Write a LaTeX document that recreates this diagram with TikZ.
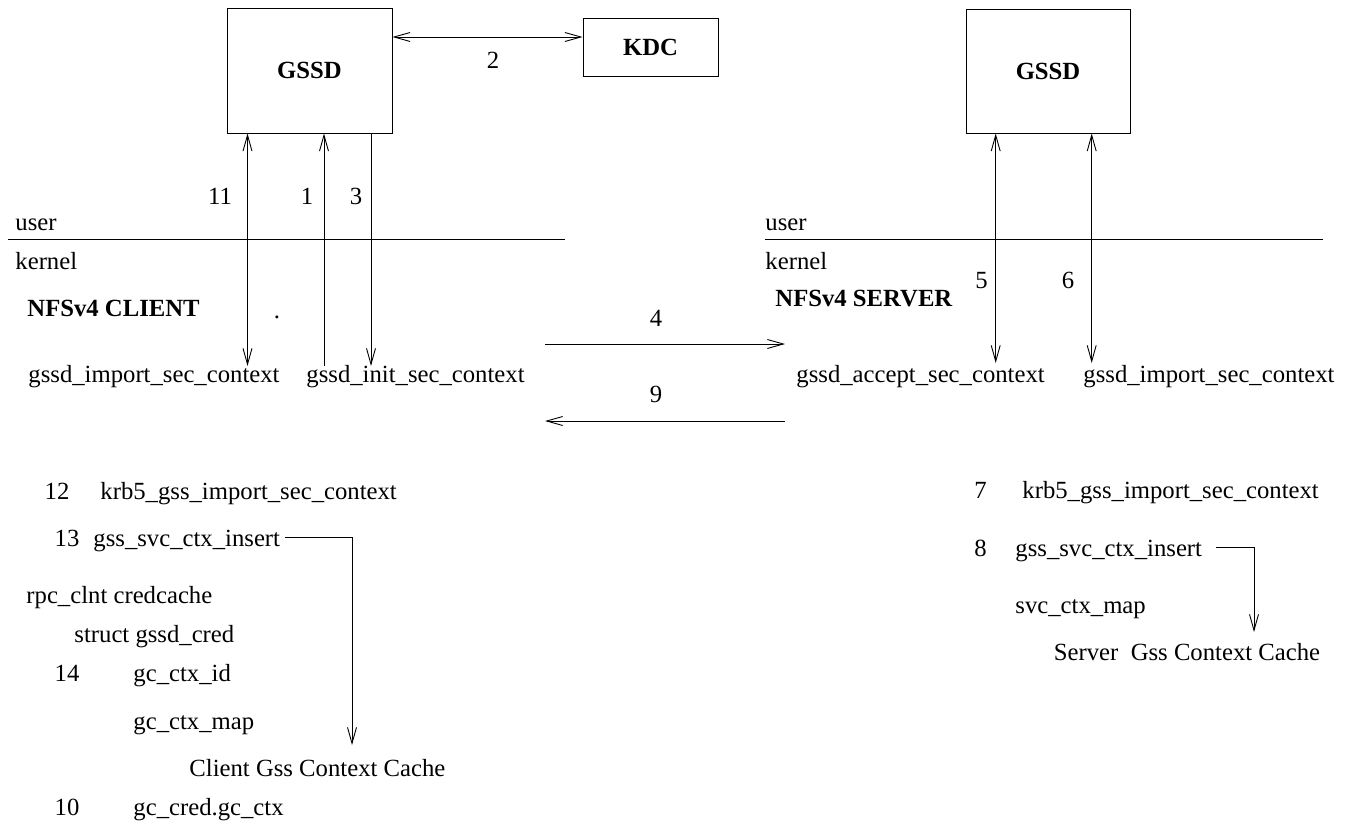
\documentclass[tikz,border=0pt]{standalone}
\usepackage{fontspec}
\setmainfont{Liberation Serif}
\usetikzlibrary{arrows.meta}
\begin{document}
\begin{tikzpicture}[x=1pt,y=-1pt,line width=0.9pt,
  >={Straight Barb[length=16pt,width=9pt]},
  every node/.style={font=\fontsize{24.7}{29}\selectfont, inner sep=0pt},
  lbl/.style={anchor=base west},
  num/.style={anchor=base},
  box/.style={draw, line width=0.9pt, font=\fontsize{24.7}{29}\selectfont\bfseries},
  conn/.style={line width=0.9pt}]
\useasboundingbox (0,0) rectangle (1357,825);

% boxes
\node[box, minimum width=165pt, minimum height=125pt] (gssdc) at (309.5,70.5) {GSSD};
\node[box, minimum width=135pt, minimum height=58pt] (kdc) at (650.5,47) {KDC};
\node[box, minimum width=164pt, minimum height=124pt] (gssds) at (1048,71) {GSSD};

% arrow 2
\coordinate (k2) at (0,37);
\draw[conn,<->] (gssdc.east |- k2) -- (kdc.west |- k2);
\node[num] (n2) at (493,68) {2};

% user / kernel (client)
\node[lbl] (userc) at (15,230) {user};
\node[lbl] (kernc) at (15,269) {kernel};
\coordinate (ulc1) at (8,239);
\coordinate (ulc2) at (565,239);
\draw[conn] (ulc1) -- (ulc2);
\node[lbl, font=\fontsize{24.7}{29}\selectfont\bfseries] (nfsc) at (27,316) {NFSv4 CLIENT};
\node[anchor=base] (dot) at (277,318) {.};

% user / kernel (server)
\node[lbl] (users) at (765,230) {user};
\node[lbl] (kerns) at (765,269) {kernel};
\coordinate (uls1) at (765,239);
\coordinate (uls2) at (1323,239);
\draw[conn] (uls1) -- (uls2);
\node[lbl, font=\fontsize{24.7}{29}\selectfont\bfseries] (nfss) at (775,306) {NFSv4 SERVER};

% client function names
\node[lbl] (impc) at (28,382) {gssd\_import\_sec\_context};
\node[lbl] (initc) at (306,382) {gssd\_init\_sec\_context};
% server function names
\node[lbl] (accs) at (796,382) {gssd\_accept\_sec\_context};
\node[lbl] (imps) at (1083,382) {gssd\_import\_sec\_context};

% client vertical arrows
\coordinate (a11) at (247.5,366);
\coordinate (a1) at (324,366);
\coordinate (a3) at (371,366);
\draw[conn,<->] (gssdc.south -| a11) -- (a11);
\draw[conn,->] (a1) -- (gssdc.south -| a1);
\draw[conn,->] (gssdc.south -| a3) -- (a3);
\node[num] (n11) at (220,204) {11};
\node[num] (n1) at (307,204) {1};
\node[num] (n3) at (356,204) {3};

% server vertical arrows
\coordinate (a5) at (995.7,363);
\coordinate (a6) at (1091.7,363);
\draw[conn,<->] (gssds.south -| a5) -- (a5);
\draw[conn,<->] (gssds.south -| a6) -- (a6);
\node[num] (n5) at (981.5,288) {5};
\node[num] (n6) at (1068,288) {6};

% arrows 4 and 9
\coordinate (a4s) at (545,344);
\coordinate (a4e) at (785,344);
\coordinate (a9s) at (785,421);
\coordinate (a9e) at (545,421);
\draw[conn,->] (a4s) -- (a4e);
\draw[conn,->] (a9s) -- (a9e);
\node[num] (n4) at (656,326) {4};
\node[num] (n9) at (656,402) {9};

% client bottom
\node[num] (n12) at (57,499) {12};
\node[lbl] (krbc) at (100,499) {krb5\_gss\_import\_sec\_context};
\node[num] (n13) at (67,546) {13};
\node[lbl] (insc) at (93,546) {gss\_svc\_ctx\_insert};
\node[lbl] (rpc) at (26,603) {rpc\_clnt credcache};
\node[lbl] (sgc) at (74,642) {struct gssd\_cred};
\node[num] (n14) at (67,681) {14};
\node[lbl] (gcid) at (133,681) {gc\_ctx\_id};
\node[lbl] (gcmap) at (133,729) {gc\_ctx\_map};
\node[lbl] (ccc) at (189,776) {Client Gss Context Cache};
\node[num] (n10) at (67,815) {10};
\node[lbl] (gccred) at (133,815) {gc\_cred.gc\_ctx};
\coordinate (cc1) at (352,537);
\coordinate (cc2) at (352,745);
\draw[conn,->] (insc.east |- cc1) ++(4,0) -- (cc1) -- (cc2);

% server bottom
\node[num] (n7) at (980.5,498) {7};
\node[lbl] (krbs) at (1022,498) {krb5\_gss\_import\_sec\_context};
\node[num] (n8) at (980.5,556) {8};
\node[lbl] (inss) at (1015,556) {gss\_svc\_ctx\_insert};
\node[lbl] (svcmap) at (1015,613) {svc\_ctx\_map};
\node[lbl] (sgcc) at (1053.5,660) {Server\ \ Gss Context Cache};
\coordinate (sc0) at (1216,547);
\coordinate (sc1) at (1254,547);
\coordinate (sc2) at (1254,632);
\draw[conn,->] (sc0) -- (sc1) -- (sc2);
\end{tikzpicture}
\end{document}
